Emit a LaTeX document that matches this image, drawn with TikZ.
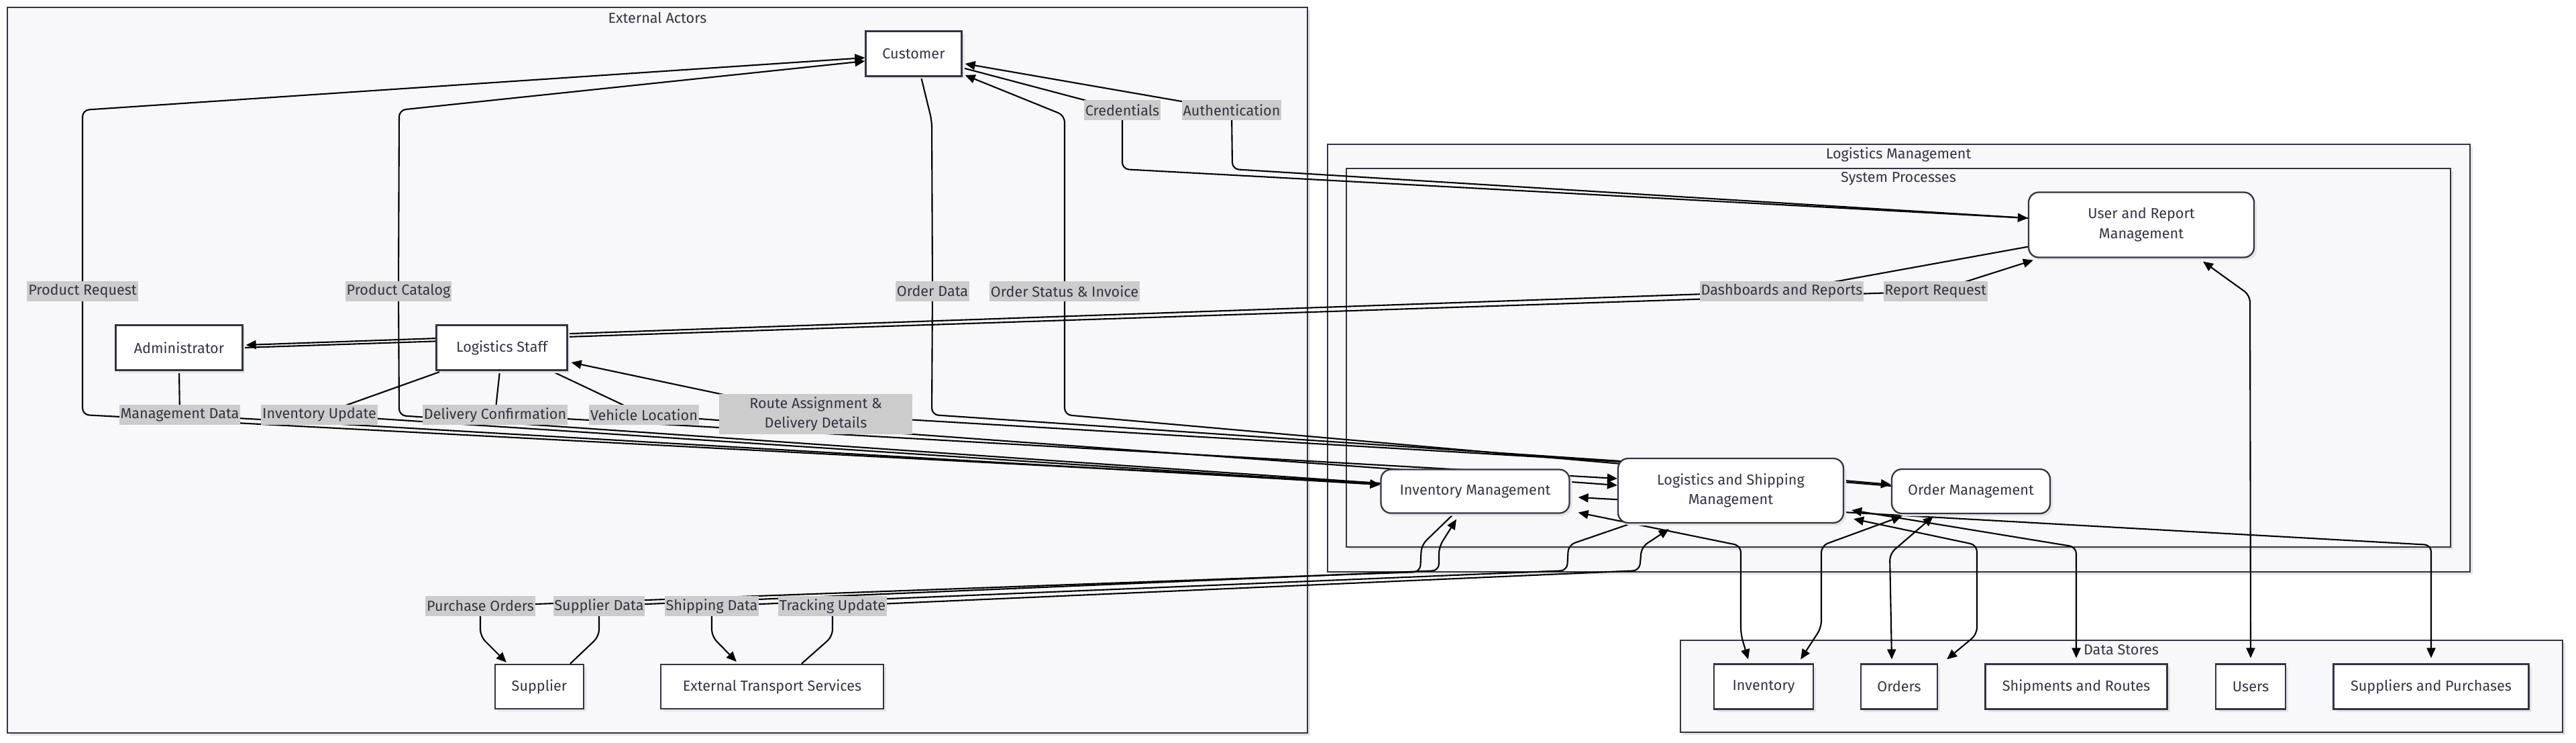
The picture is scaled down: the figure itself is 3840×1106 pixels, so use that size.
\documentclass[tikz,border=0pt]{standalone}
\usepackage{fontspec}
\setmainfont{Fira Sans}
\usetikzlibrary{arrows.meta, calc, shadows}
\definecolor{ink}{HTML}{333344}
\definecolor{panel}{HTML}{F8F8FA}
\definecolor{tagfill}{HTML}{CCCCCC}
\pgfdeclarelayer{background}
\pgfdeclarelayer{edges}
\pgfsetlayers{background,edges,main}

\begin{document}
\begin{tikzpicture}[
    x=0.02cm, y=-0.02cm,
    every node/.style={font=\fontsize{12.3}{16.9}\selectfont, text=ink},
    cluster/.style={draw=ink, line width=1.3pt, fill=panel,
        drop shadow={shadow xshift=0.08cm, shadow yshift=-0.08cm, fill=black!10, opacity=1}},
    actor/.style={rectangle, draw=ink, line width=1.3pt, fill=white, inner sep=0pt,
        minimum height=1.34cm, align=center,
        drop shadow={shadow xshift=0.08cm, shadow yshift=-0.08cm, fill=black!10, opacity=1}},
    process/.style={actor, rounded corners=0.3cm},
    store/.style={actor},
    flowlabel/.style={rectangle, fill=tagfill, inner xsep=1pt, inner ysep=0pt, minimum height=0.6cm, align=center},
    flow/.style={-{Triangle[length=0.3cm, width=0.26cm]}, line width=1.2pt, rounded corners=0.2cm},
    duplex/.style={flow, {Triangle[length=0.3cm, width=0.26cm]}-{Triangle[length=0.3cm, width=0.26cm]}}
]
\useasboundingbox (0,0) rectangle (3840,1106);

% Clusters
\begin{pgfonlayer}{background}
\fill[white] (0,0) rectangle (3840,1106);
\draw[cluster] (11,11) rectangle (1949,1092);
\draw[cluster] (1979,215) rectangle (3682,852);
\draw[cluster] (2007,251) rectangle (3653,815);
\draw[cluster] (2505,954) rectangle (3820,1091);
\end{pgfonlayer}
\node (actorstitle) at (980,27) {External Actors};
\node (logtitle) at (2830,230) {Logistics Management};
\node (systitle) at (2830,266) {System Processes};
\node (storetitle) at (3162,968) {Data Stores};

% External actors
\node[actor, minimum width=2.86cm] (customer) at (1362,80) {Customer};
\node[actor, minimum width=3.78cm] (admin) at (267,518) {Administrator};
\node[actor, minimum width=3.9cm] (staff) at (748,518) {Logistics Staff};
\node[actor, minimum width=2.64cm, minimum height=1.32cm] (supplier) at (804,1023) {Supplier};
\node[actor, minimum width=6.64cm, minimum height=1.32cm] (transport) at (1151,1023) {External Transport Services};

% System processes
\node[process, minimum width=5.62cm, minimum height=1.3cm] (invmgmt) at (2199,732) {Inventory Management};
\node[process, minimum width=6.72cm, minimum height=1.92cm] (shipmgmt) at (2580,731) {Logistics and Shipping\\Management};
\node[process, minimum width=4.72cm, minimum height=1.32cm] (ordermgmt) at (2938,732) {Order Management};
\node[process, minimum width=6.72cm, minimum height=1.94cm] (usermgmt) at (3192,335) {User and Report\\Management};

% Data stores
\node[store, minimum width=2.96cm] (inventory) at (2629,1023) {Inventory};
\node[store, minimum width=2.28cm] (orders) at (2831,1023) {Orders};
\node[store, minimum width=5.42cm] (shipments) at (3095,1023) {Shipments and Routes};
\node[store, minimum width=2.08cm] (users) at (3355,1023) {Users};
\node[store, minimum width=5.82cm] (suppliers) at (3624,1023) {Suppliers and Purchases};

% Labels
\node[flowlabel] (lblrequest) at (123,434) {Product Request};
\node[flowlabel] (lblcatalog) at (594,434) {Product Catalog};
\node[flowlabel] (lblorderdata) at (1390,434) {Order Data};
\node[flowlabel] (lblstatus) at (1587,434) {Order Status \& Invoice};
\node[flowlabel] (lblcred) at (1673,164) {Credentials};
\node[flowlabel] (lblauth) at (1836,164) {Authentication};
\node[flowlabel] (lbldash) at (2656,434) {Dashboards and Reports};
\node[flowlabel] (lblreport) at (2885,434) {Report Request};
\node[flowlabel] (lblmgmt) at (268,618) {Management Data};
\node[flowlabel] (lblinvupd) at (476,618) {Inventory Update};
\node[flowlabel] (lbldelivery) at (738,618) {Delivery Confirmation};
\node[flowlabel] (lblvehicle) at (960,618) {Vehicle Location};
\node[flowlabel, minimum width=5.76cm, minimum height=1.2cm] (lblroute) at (1216,617) {Route Assignment \&\\Delivery Details};
\node[flowlabel] (lblpurchase) at (716,903) {Purchase Orders};
\node[flowlabel] (lblsupdata) at (893,903) {Supplier Data};
\node[flowlabel] (lblshipdata) at (1061,903) {Shipping Data};
\node[flowlabel] (lbltracking) at (1241,903) {Tracking Update};

% Flows
\begin{pgfonlayer}{edges}
\draw[flow] ($(invmgmt.west)+(0,-12)$) -- (123,618) -- (lblrequest.center) -- (123,164) -- ($(customer.west)+(0,6)$);
\draw[flow] ($(invmgmt.west)+(0,-12)$) -- (595,619) -- (lblcatalog.center) -- (595,164) -- ($(customer.west)+(0,11)$);
\draw[flow] ($(customer.south)+(11,0)$) -- (1389,180) -- (lblorderdata.center) -- (1389,618) -- (2416,687) -- ($(ordermgmt.west)+(0,-10)$);
\draw[flow] ($(ordermgmt.west)+(0,-8)$) -- (2416,691) -- (1587,618) -- (lblstatus.center) -- (1587,172) -- ($(customer.east)+(4,32)$);
\draw[flow] ($(customer.east)+(0,21)$) -- (lblcred.center) -- (1673,252) -- ($(usermgmt.west)+(0,-10)$);
\draw[flow] ($(usermgmt.west)+(0,-10)$) -- (1837,252) -- (lblauth.center) -- ($(customer.east)+(4,15)$);
\draw[flow] ($(usermgmt.south west)+(0,-17)$) -- (lbldash.center) -- ($(admin.east)+(4,-4)$);
\draw[flow] (admin.east) -- (lblreport.center) -- ($(usermgmt.south west)+(8,3)$);
\draw[flow] (admin.south) -- (lblmgmt.center) -- ($(invmgmt.west)+(0,-10)$);
\draw[flow] ($(staff.south west)+(10,0)$) -- (lblinvupd.center) -- ($(invmgmt.west)+(0,-10)$);
\draw[flow] ($(staff.south)+(-3,0)$) -- (lbldelivery.center) -- ($(shipmgmt.west)+(0,-18)$);
\draw[flow] ($(staff.south east)+(-25,0)$) -- (lblvehicle.center) -- ($(shipmgmt.west)+(0,-8)$);
\draw[flow] ($(shipmgmt.north west)+(4,6)$) -- (lblroute.center) -- ($(staff.east)+(5,22)$);
\draw[flow] ($(invmgmt.south)+(-32,0)$) -- (2119,812) -- (2117,852) -- (lblpurchase.center) -- (716,948) -- ($(supplier.north west)+(18,-2)$);
\draw[flow] ($(supplier.north)+(46,0)$) -- (893,948) -- (lblsupdata.center) -- (2145,850) -- (2145,815) -- ($(invmgmt.south)+(-28,8)$);
\draw[flow] ($(shipmgmt.south west)+(20,0)$) -- (2338,812) -- (2336,850) -- (lblshipdata.center) -- (1061,948) -- ($(transport.north west)+(114,-3)$);
\draw[flow] ($(transport.north west)+(211,0)$) -- (1241,948) -- (lbltracking.center) -- (2444,850) -- (2447,815) -- ($(shipmgmt.south west)+(77,8)$);
% store access
\draw[duplex] ($(invmgmt.south east)+(12,-2)$) -- (2595,813) -- (2595,945) -- ($(inventory.north)+(-23,-6)$);
\draw[duplex] ($(ordermgmt.south west)+(16,3)$) -- (2715,813) -- (2715,935) -- ($(inventory.north east)+(-20,-6)$);
\draw[duplex] ($(ordermgmt.south west)+(63,3)$) -- (2817,825) -- ($(orders.north)+(-11,-6)$);
\draw[duplex] ($(shipmgmt.south east)+(14,-7)$) -- (2947,812) -- (2947,945) -- ($(orders.north east)+(13,-6)$);
\draw[duplex] ($(shipmgmt.south east)+(11,-20)$) -- (3095,815) -- ($(shipments.north)+(0,-8)$);
\draw[duplex] ($(usermgmt.south)+(92,5)$) -- (3354,440) -- ($(users.north)+(0,-8)$);
\draw[duplex] ($(invmgmt.east)+(12,9)$) -- (3624,812) -- ($(suppliers.north)+(0,-8)$);
\end{pgfonlayer}

\end{tikzpicture}
\end{document}
